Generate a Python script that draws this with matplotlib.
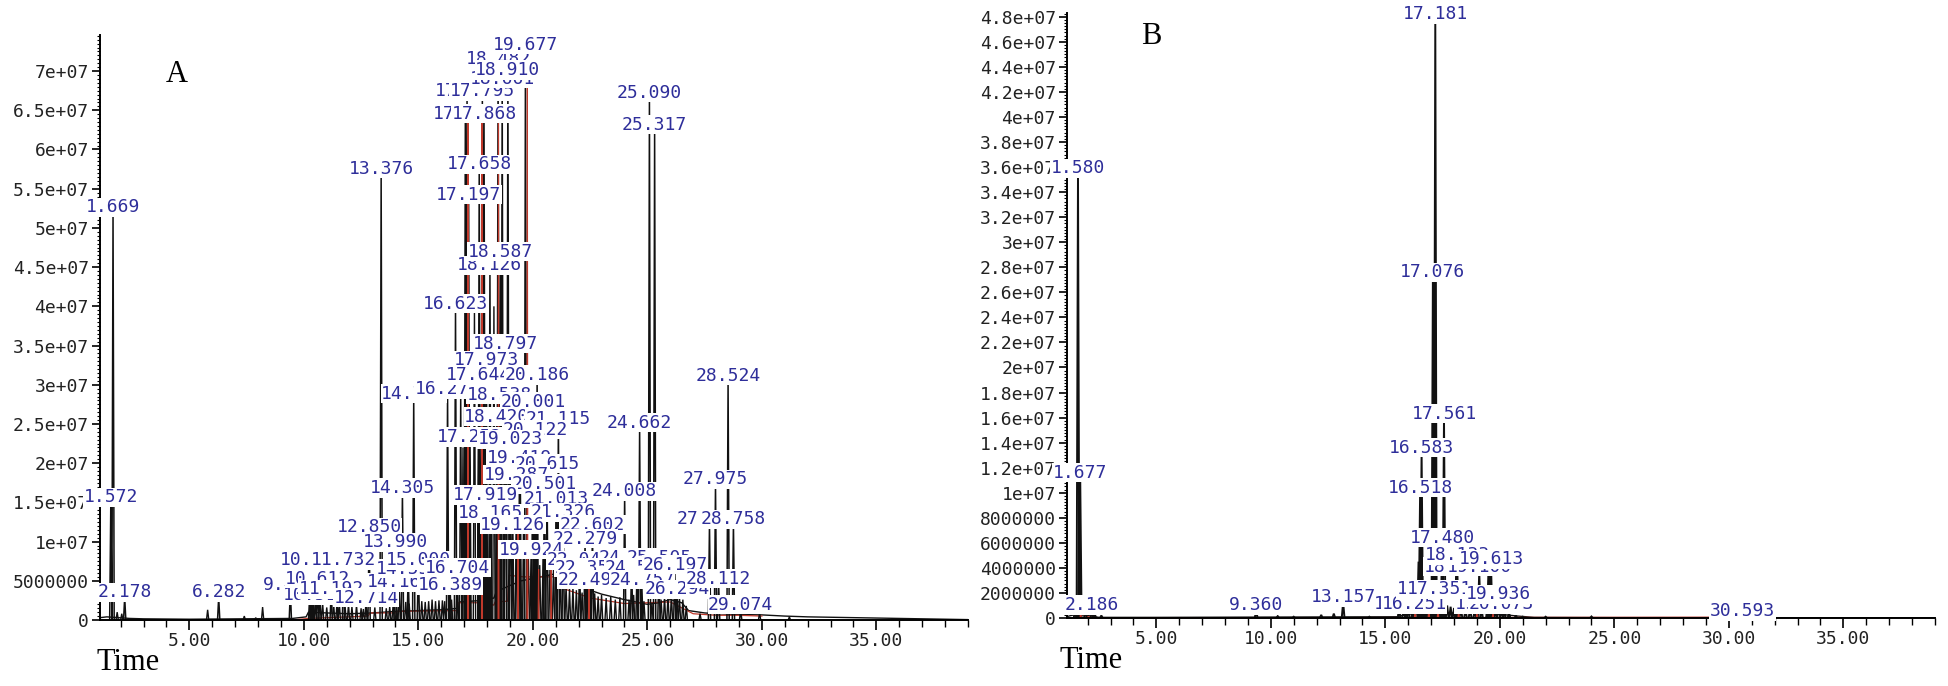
import numpy as np
import matplotlib
matplotlib.use("Agg")
from matplotlib import pyplot as plt
from matplotlib.ticker import MultipleLocator, FixedLocator, FuncFormatter

plt.rcParams['font.family'] = 'DejaVu Sans Mono'
plt.rcParams['font.size'] = 13
plt.rcParams['xtick.direction'] = 'out'
plt.rcParams['ytick.direction'] = 'out'

BLUE = '#2e2e9a'
RED = '#c0392b'
M = 1e6

# ---------------- panel A ----------------
# labelled peaks: label = retention time (min), height in 1e6 counts
a_labels = ["1.572", "1.669", "2.178", "6.282", "9.411", "10.512", "10.612",
            "10.377", "11.192", "11.732", "12.714", "14.163", "14.558", "15.000",
            "16.389", "16.704", "12.850", "13.990", "14.305", "14.798", "16.276",
            "13.376", "16.623", "17.197", "17.658", "17.052", "17.868", "17.127",
            "17.795", "18.661", "18.482", "18.910", "19.677", "18.126", "18.587",
            "18.797", "17.973", "17.644", "20.186", "18.538", "20.001", "18.420",
            "21.115", "20.122", "17.252", "19.023", "19.419", "20.615", "19.287",
            "20.501", "24.008", "17.919", "21.013", "18.165", "21.326", "19.126",
            "22.602", "22.279", "19.924", "22.041", "24.312", "25.505", "22.357",
            "24.548", "22.493", "24.757", "26.197", "26.294", "24.662", "25.090",
            "25.317", "27.712", "28.758", "27.975", "28.524", "28.112", "29.074"]
a_heights = [15.0, 52.0, 2.9, 2.9, 3.8, 2.5, 4.6,
             7.0, 3.3, 7.0, 2.2, 4.2, 5.9, 7.0,
             3.8, 6.0, 11.2, 9.3, 16.2, 28.2, 28.8,
             56.9, 39.7, 53.6, 57.5, 63.9, 63.9, 66.8,
             66.8, 68.4, 70.9, 69.5, 72.7, 44.6, 46.3,
             34.6, 32.5, 30.6, 30.6, 28.1, 27.2, 25.3,
             25.0, 23.6, 22.7, 22.4, 20.0, 19.3, 17.9,
             16.7, 15.8, 15.3, 14.8, 13.0, 13.1, 11.5,
             11.5, 9.7, 8.3, 7.0, 7.3, 7.3, 6.0,
             6.0, 4.5, 4.5, 6.4, 3.3, 24.5, 66.6,
             62.5, 12.2, 12.2, 17.3, 30.5, 4.6, 1.3]

# unlabelled peaks
a_small_t = [1.85, 2.05, 5.8, 7.4, 7.9, 8.2, 10.25, 10.32, 10.42, 10.7, 10.82,
             11.0, 11.3, 11.45, 11.55, 11.8, 11.95, 12.1, 12.3, 12.5, 12.6, 13.1,
             13.6, 13.75, 13.9, 14.05, 14.45, 14.6, 15.15, 15.3, 15.45, 15.6,
             15.75, 15.9, 16.05, 16.15, 16.45, 16.85, 16.95, 17.45, 18.3,
             19.3, 19.45, 19.6, 19.8, 20.05, 20.3, 20.45, 20.75, 20.9,
             21.2, 21.45, 21.6, 21.75, 21.9, 22.15, 22.7, 22.85, 23.0, 23.2,
             23.4, 23.6, 23.8, 24.2, 24.4, 24.85, 25.2, 25.6, 25.75, 25.9, 26.05,
             26.4, 26.55, 26.7, 27.3, 29.9, 31.2]
a_small_h = [1.0, 0.8, 1.3, 0.5, 0.3, 1.65, 2.9, 2.9, 2.9, 2.9, 2.2,
             1.6, 2.2, 2.4, 2.2, 1.8, 2.0, 1.7, 1.9, 1.5, 1.4, 1.6,
             1.5, 1.7, 2.0, 2.0, 2.3, 2.1, 2.4, 2.3, 2.4, 2.6,
             2.4, 2.5, 2.5, 2.4, 2.6, 30.0, 22.0, 40.0, 40.0,
             12.0, 20.0, 15.0, 9.0, 8.0, 7.0, 9.0, 7.0, 6.5,
             6.0, 4.5, 4.0, 4.2, 3.8, 3.5, 3.4, 3.0, 3.2, 2.8,
             3.0, 2.6, 2.9, 2.6, 3.2, 2.4, 2.2, 2.6, 3.0, 3.1, 3.3,
             3.0, 2.6, 1.8, 0.8, 0.9, 0.4]

a_red_t = [17.17, 17.78, 18.5, 19.76, 19.35, 20.25, 20.8, 22.45]
a_red_h = [63.5, 63.5, 63.5, 68.2, 12.0, 6.5, 6.5, 4.0]

a_base_t = [1.1, 1.4, 1.9, 2.4, 3.0, 5.0, 9.5, 10.1, 10.2, 11.0, 12.0, 13.0,
            14.0, 15.0, 16.0, 16.75, 16.8, 17.8, 18.3, 18.4, 19.0, 19.5, 20.0,
            20.5, 21.0, 21.3, 21.35, 22.0, 23.0, 24.0, 25.0, 25.5, 26.0, 26.5,
            26.8, 27.5, 28.0, 29.0, 30.0, 31.0, 32.0, 33.0, 34.0, 35.0, 36.0,
            37.0, 38.0, 39.0]
a_base_v = [0.3, 0.4, 0.3, 0.2, 0.15, 0.1, 0.2, 0.4, 1.0, 0.9, 0.8, 0.9,
            1.1, 1.2, 1.3, 1.5, 2.3, 2.5, 2.8, 3.6, 4.4, 5.0, 5.3,
            5.6, 5.9, 6.0, 4.8, 4.3, 3.3, 2.6, 2.0, 2.2, 2.6, 2.2,
            1.2, 0.9, 0.8, 0.7, 0.65, 0.5, 0.4, 0.35, 0.3, 0.25, 0.2,
            0.15, 0.1, 0.05]

a_redbase_t = [9.5, 10.2, 12.8, 12.9, 14.0, 14.1, 16.7, 16.75, 17.7, 18.3,
               18.35, 18.9, 18.95, 19.6, 21.3, 21.35, 22.5, 24.0, 26.0, 27.0,
               28.0, 29.0, 30.0]
a_redbase_v = [0.0, 0.2, 0.5, 0.9, 0.9, 1.1, 1.2, 2.2, 2.2, 1.9,
               2.3, 2.4, 5.7, 5.5, 5.5, 4.0, 2.8, 2.1, 2.3, 0.8,
               0.6, 0.6, 0.5]

# ---------------- panel B ----------------
b_labels = ["1.580", "1.677", "2.186", "9.360", "13.157", "15.923", "16.251",
            "19.455", "20.073", "16.911", "17.351", "19.936", "18.105", "19.100",
            "18.133", "19.613", "17.480", "16.518", "16.583", "17.561", "17.076",
            "17.181", "30.593"]
b_heights = [35.5, 11.2, 0.64, 0.64, 1.28, 0.7, 0.7,
             0.7, 0.7, 1.9, 1.9, 1.5, 3.7, 3.7,
             4.6, 4.3, 6.0, 10.0, 13.2, 15.9, 27.2,
             47.8, 0.12]

b_small_t = [1.45, 1.64, 1.9, 2.3, 2.6, 10.3, 11.0, 12.2, 12.75, 14.3, 15.6,
             15.8, 16.0, 16.2, 16.45, 16.7, 16.8, 16.95, 17.11, 17.14, 17.25,
             17.4, 17.7, 17.85, 18.0, 18.3, 18.5, 18.7, 18.9, 19.2, 19.5, 19.57,
             19.8, 20.2, 20.4, 20.7, 21.0, 22.0, 24.0]
b_small_h = [0.5, 9.7, 0.6, 0.5, 0.2, 0.15, 0.1, 0.25, 0.35, 0.1, 0.8,
             0.9, 0.9, 0.8, 4.5, 0.9, 1.0, 1.0, 16.0, 26.0, 1.0,
             1.1, 1.0, 0.9, 0.8, 0.8, 0.7, 0.8, 0.6, 0.7, 3.6, 3.6,
             0.6, 0.5, 0.4, 0.2, 0.1, 0.1, 0.12]

b_red_t = [1.7, 16.3, 16.9, 17.3, 18.2, 19.0, 19.7]
b_red_h = [0.5, 0.6, 0.8, 0.7, 0.5, 0.5, 0.4]

b_base_t = [1.07, 1.5, 2.0, 2.5, 5.0, 15.5, 16.0, 17.0, 18.0, 19.0, 20.0,
            20.8, 21.5, 25.0, 39.0]
b_base_v = [0.1, 0.3, 0.2, 0.05, 0.05, 0.1, 0.3, 0.4, 0.4, 0.4, 0.3,
            0.15, 0.05, 0.03, 0.02]

b_redbase_t = [1.5, 1.7, 2.0, 2.4, 2.7, 29.8, 31.4]
b_redbase_v = [0.1, 0.35, 0.1, 0.0, 0.0, 0.06, 0.06]


def spikes(ax, times, heights, color, lw, w):
    xs, ys = [], []
    for t, h in zip(times, heights):
        xs += [t - w, t, t + w, np.nan]
        ys += [0, h * M, 0, np.nan]
    ax.plot(xs, ys, color=color, lw=lw, zorder=2, solid_joinstyle='miter')


def label_peaks(ax, labels, heights):
    for lab, h in zip(labels, heights):
        ax.text(float(lab), h * M, lab, ha='center', va='baseline', color=BLUE,
                fontsize=13, zorder=4, clip_on=False,
                bbox=dict(boxstyle='square,pad=0.03', fc='white', ec='none'))


def yfmt(v, pos):
    if v < 1e7:
        return str(int(round(v)))
    return '%g' % v


def style(ax, ymax, ystep, yminor):
    for s in ['top', 'right']:
        ax.spines[s].set_visible(False)
    for s in ['left', 'bottom']:
        ax.spines[s].set_linewidth(1.4)
        ax.spines[s].set_color('black')
    ax.set_xlim(1.1, 39.0)
    ax.set_ylim(0, ymax)
    ax.xaxis.set_major_locator(FixedLocator([5, 10, 15, 20, 25, 30, 35]))
    ax.xaxis.set_minor_locator(MultipleLocator(1))
    ax.xaxis.set_major_formatter(FuncFormatter(lambda v, p: '%.2f' % v))
    ax.yaxis.set_major_locator(MultipleLocator(ystep))
    ax.yaxis.set_minor_locator(MultipleLocator(yminor))
    ax.yaxis.set_major_formatter(FuncFormatter(yfmt))
    ax.tick_params(axis='x', which='major', length=7, width=1.2, pad=2,
                   labelsize=13, labelcolor='#222222')
    ax.tick_params(axis='x', which='minor', length=5, width=1.0)
    ax.tick_params(axis='y', which='major', length=6, width=1.2, pad=2,
                   labelsize=13, labelcolor='#222222')
    ax.tick_params(axis='y', which='minor', length=2.5, width=0.8)


fig = plt.figure(figsize=(19.49, 6.86), dpi=100)
axA = fig.add_axes([100 / 1949, 66 / 686, 868 / 1949, 585 / 686])
axB = fig.add_axes([1067 / 1949, 68 / 686, 868 / 1949, 605 / 686])

# panel A
axA.plot(np.array(a_base_t), np.array(a_base_v) * M, color='#111111', lw=1.0, zorder=2)
axA.plot(np.array(a_redbase_t), np.array(a_redbase_v) * M, color=RED, lw=0.9, zorder=2)
spikes(axA, a_small_t, a_small_h, '#111111', 1.0, 0.05)
spikes(axA, [float(s) for s in a_labels], a_heights, '#111111', 1.1, 0.05)
spikes(axA, a_red_t, a_red_h, RED, 0.8, 0.02)
label_peaks(axA, a_labels, a_heights)
style(axA, 7.46e7, 5e6, 5e5)

# panel B
axB.plot(np.array(b_base_t), np.array(b_base_v) * M, color='#111111', lw=1.0, zorder=2)
axB.plot(np.array(b_redbase_t), np.array(b_redbase_v) * M, color=RED, lw=1.0, zorder=2)
spikes(axB, b_small_t, b_small_h, '#111111', 1.4, 0.06)
spikes(axB, [float(s) for s in b_labels], b_heights, '#111111', 1.4, 0.06)
spikes(axB, b_red_t, b_red_h, RED, 0.9, 0.03)
label_peaks(axB, b_labels, b_heights)
style(axB, 4.83e7, 2e6, 2.5e5)

serif = dict(family='Liberation Serif', fontsize=22)
fig.text(97 / 1949, 1 - 662 / 686, 'Time', ha='left', va='center', **serif)
fig.text(1060 / 1949, 1 - 660 / 686, 'Time', ha='left', va='center', **serif)
fig.text(177 / 1949, 1 - 74 / 686, 'A', ha='center', va='center', **serif)
fig.text(1151 / 1949, 1 - 37 / 686, 'B', ha='center', va='center', **serif)

fig.savefig('out.png', dpi=100, facecolor='white')
